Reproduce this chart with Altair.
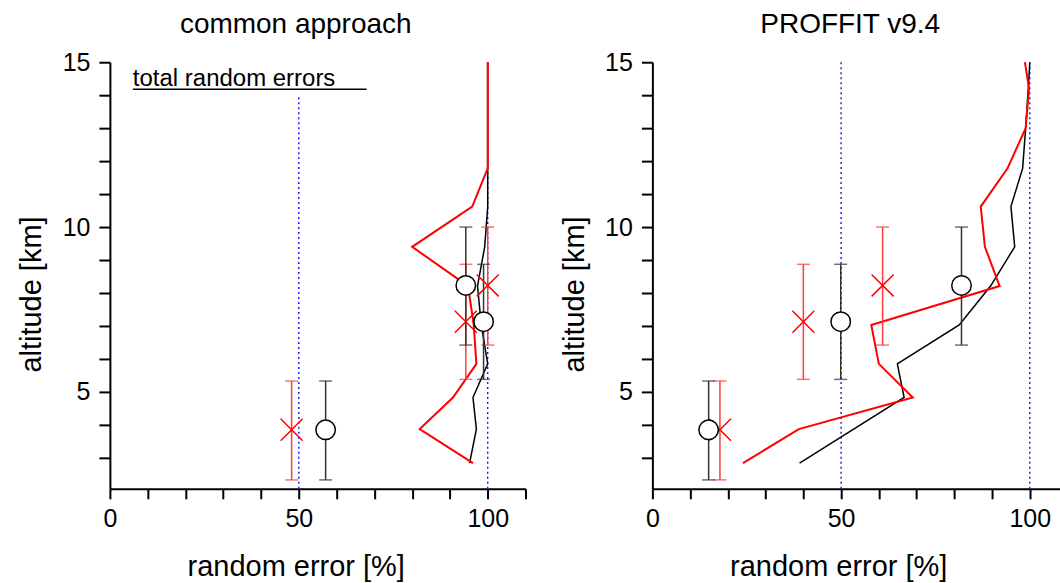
import altair as alt
import pandas as pd

FONT = "Liberation Sans"

# profile altitude grid [km]
alt_levels = [2.84, 3.87, 4.83, 5.85, 7.03, 8.21, 9.40, 10.62, 11.78, 13.0, 14.2, 15.0]

# left panel (common approach) random error profiles [%]
left_red = [96.1, 82.0, 90.8, 97.0, 96.3, 94.8, 80.0, 95.9, 100.0, 100.0, 100.0, 100.0]
left_black = [95.2, 97.0, 96.1, 100.0, 98.3, 97.3, 99.2, 100.0, 100.0, 100.0, 100.0, 100.0]

# right panel (PROFFIT v9.4) random error profiles [%]
right_red = [24.0, 38.8, 69.0, 60.0, 58.0, 92.0, 88.1, 87.0, 94.1, 98.9, 99.8, 98.7]
right_black_alt = [2.84, 4.83, 5.85, 7.03, 8.21, 9.40, 10.62, 11.78, 13.0, 14.2, 15.0]
right_black = [39.0, 66.7, 64.9, 81.3, 89.6, 96.0, 95.0, 98.1, 98.9, 99.6, 100.0]

# partial-column markers with altitude ranges
marker_alt = [3.85, 7.13, 8.23]
err_low = [2.33, 5.38, 6.42]
err_high = [5.33, 8.87, 10.0]
left_circle = [57.1, 98.9, 94.2]
left_cross = [48.1, 94.2, 100.0]
right_circle = [14.9, 49.9, 81.9]
right_cross = [17.9, 40.0, 61.0]

# blue dotted reference lines
ref_x = [50, 100]
left_ref_top = [13.94, 15.0]
right_ref_top = [15.0, 15.0]

Y_DOM = [2.06, 15]
H = 427
YS = alt.Scale(domain=Y_DOM, nice=False, zero=False)

Y_AXIS = alt.Axis(values=list(range(3, 16)),
                  labelExpr="datum.value % 5 == 0 ? datum.label : ''",
                  title="altitude [km]", titleX=-78, titleY=232,
                  titleBaseline="middle", tickSize=11, labelPadding=9,
                  labelOverlap=False)

CROSS = "M-1,-1L1,1M1,-1L-1,1"


def panel(title, title_dx, x_max, width, red, black_alt, black, circ, cross, ref_top, legend):
    XS = alt.Scale(domain=[0, x_max], nice=False, zero=False)
    X_AXIS = alt.Axis(values=[v for v in range(0, 111, 10) if v <= x_max],
                      labelExpr="datum.value % 50 == 0 ? datum.label : ''",
                      title="random error [%]", titleX=186, titleY=78,
                      titleBaseline="middle", labelPadding=8, labelOverlap=False)

    red_df = pd.DataFrame({"alt": alt_levels, "err": red})
    black_df = pd.DataFrame({"alt": black_alt, "err": black})
    ref_df = pd.DataFrame({"x": ref_x, "y0": [Y_DOM[0]] * 2, "y1": ref_top})
    mk = pd.DataFrame({"alt": marker_alt, "lo": err_low, "hi": err_high,
                       "circ": circ, "cross": cross})

    def xy(xf, yf):
        return dict(x=alt.X(xf, scale=XS, axis=X_AXIS), y=alt.Y(yf, scale=YS, axis=Y_AXIS))

    refs = alt.Chart(ref_df).mark_rule(color="#0000ff", strokeDash=[2, 3], strokeWidth=1.3).encode(
        y2="y1:Q", **xy("x:Q", "y0:Q"))
    black_line = alt.Chart(black_df).mark_line(color="#000000", strokeWidth=1.5).encode(
        order="alt:Q", **xy("err:Q", "alt:Q"))
    red_line = alt.Chart(red_df).mark_line(color="#ff0000", strokeWidth=2).encode(
        order="alt:Q", **xy("err:Q", "alt:Q"))

    layers = [refs, black_line, red_line]
    for col, color in (("cross", "#ff3b3b"), ("circ", "#333333")):
        base = alt.Chart(mk)
        layers.append(base.mark_rule(color=color, strokeWidth=1.5).encode(
            y2="hi:Q", **xy(f"{col}:Q", "lo:Q")))
        for end in ("lo", "hi"):
            layers.append(base.mark_tick(color=color, orient="horizontal", size=13,
                                         thickness=1.5).encode(**xy(f"{col}:Q", f"{end}:Q")))

    layers.append(alt.Chart(mk).mark_point(shape=CROSS, size=484, filled=False, color="#ff0000",
                                           strokeWidth=1.5, opacity=1).encode(
        **xy("cross:Q", "alt:Q")))
    layers.append(alt.Chart(mk).mark_point(shape="circle", size=380, filled=True, fill="white",
                                           stroke="black", strokeWidth=1.5, opacity=1).encode(
        **xy("circ:Q", "alt:Q")))

    if legend:
        leg = pd.DataFrame({"t": ["total random errors"]})
        layers.append(alt.Chart(leg).mark_text(align="left", baseline="alphabetic", fontSize=24,
                                               font=FONT, color="black").encode(
            x=alt.value(23), y=alt.value(24), text="t:N"))
        layers.append(alt.Chart(leg).mark_rule(color="black", strokeWidth=1.5).encode(
            x=alt.value(23), x2=alt.value(257), y=alt.value(27)))

    return alt.layer(*layers).properties(
        width=width, height=H,
        title=alt.TitleParams(title, fontSize=28, fontWeight="normal", font=FONT,
                              color="black", dx=title_dx, offset=11, anchor="middle"))


left = panel("common approach", -22, 110, 416, left_red, alt_levels, left_black,
             left_circle, left_cross, left_ref_top, True)
right = panel("PROFFIT v9.4", -6, 108, 408, right_red, right_black_alt, right_black,
              right_circle, right_cross, right_ref_top, False)

chart = alt.hconcat(left, right, spacing=34).properties(
    padding={"left": 18, "top": 11, "right": 0, "bottom": 0}
).configure_view(stroke=None).configure_axis(
    grid=False, domainColor="black", domainWidth=2, tickColor="black", tickWidth=2,
    tickSize=10, labelFont=FONT, labelFontSize=25, labelColor="black",
    labelOverlap=False, labelBound=False, labelFlush=False,
    titleFont=FONT, titleFontSize=29, titleFontWeight="normal", titleColor="black"
)

chart.save("out.html", embed_options={"renderer": "svg", "actions": False})
